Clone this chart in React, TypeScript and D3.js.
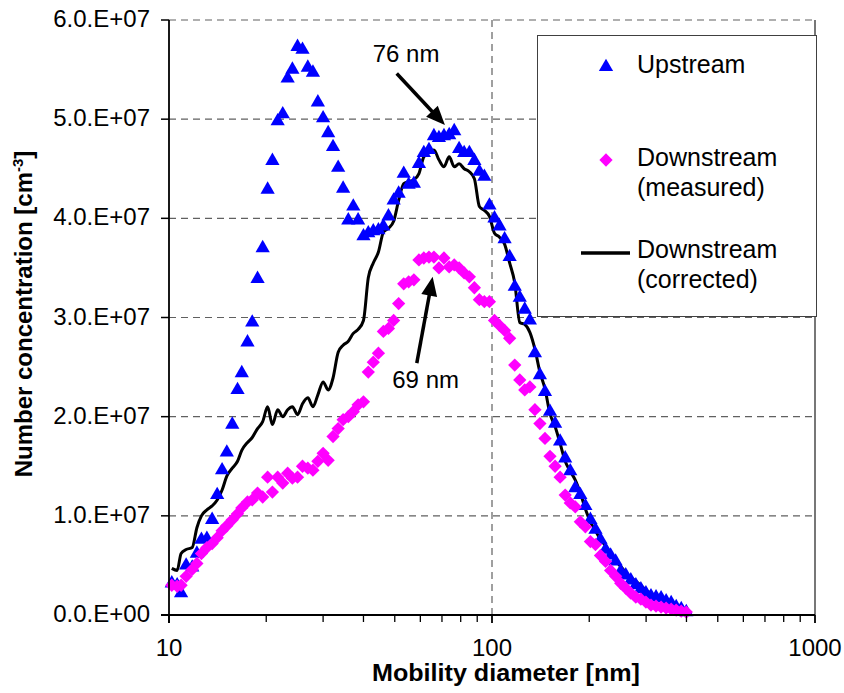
import React from 'react';
import * as d3 from 'd3';

// Mobility diameters (nm), SMPS channels
const diameters = [
  10.2, 10.6, 10.9, 11.3, 11.8, 12.2, 12.6, 13.1, 13.6, 14.1,
  14.6, 15.1, 15.7, 16.3, 16.8, 17.5, 18.1, 18.8, 19.5, 20.2,
  20.9, 21.7, 22.5, 23.3, 24.1, 25.0, 25.9, 26.9, 27.9, 28.9,
  30.0, 31.1, 32.2, 33.4, 34.6, 35.9, 37.2, 38.5, 40.0, 41.4,
  42.9, 44.5, 46.1, 47.8, 49.6, 51.4, 53.3, 55.2, 57.3, 59.4,
  61.5, 63.8, 66.1, 68.5, 71.0, 73.7, 76.4, 79.1, 82.0, 85.1,
  88.2, 91.4, 94.7, 98.2, 101.8, 105.5, 109.4, 113.4, 117.6, 121.9,
  126.3, 131.0, 135.8, 140.7, 145.9, 151.2, 156.8, 162.5, 168.5, 174.7,
  181.1, 187.7, 194.6, 201.7, 209.1, 216.7, 224.7, 232.9, 241.4, 250.3,
  259.5, 269.0, 278.8, 289.0, 299.6, 310.6, 322.0, 333.8, 346.0, 358.7,
  371.8, 385.4, 399.5,
];

// Number concentration, units of 1e7 cm^-3
const upstream = [
  0.32, 0.30, 0.22, 0.50, 0.48, 0.62, 0.76, 0.77, 0.96, 1.21,
  1.46, 1.64, 1.92, 2.27, 2.44, 2.75, 2.95, 3.39, 3.70, 4.29,
  4.58, 4.98, 5.05, 5.41, 5.50, 5.73, 5.70, 5.52, 5.47, 5.17,
  5.01, 4.86, 4.72, 4.51, 4.30, 3.98, 4.12, 3.98, 3.82, 3.85,
  3.87, 3.88, 3.92, 4.02, 4.18, 4.25, 4.45, 4.34, 4.35, 4.55,
  4.66, 4.69, 4.83, 4.81, 4.83, 4.84, 4.88, 4.70, 4.66, 4.66,
  4.58, 4.47, 4.42, 4.13, 4.00, 3.92, 3.79, 3.61, 3.31, 3.20,
  3.08, 2.97, 2.64, 2.42, 2.25, 2.05, 1.93, 1.75, 1.58, 1.45,
  1.28, 1.21, 1.10, 0.96, 0.86, 0.76, 0.66, 0.60, 0.54, 0.44,
  0.40, 0.35, 0.30, 0.26, 0.22, 0.19, 0.18, 0.17, 0.14, 0.12,
  0.08, 0.06, 0.03,
];

const downstreamMeasured = [
  0.30, 0.29, 0.30, 0.39, 0.46, 0.52, 0.62, 0.68, 0.72, 0.78,
  0.85, 0.90, 0.96, 1.02, 1.08, 1.14, 1.16, 1.23, 1.19, 1.39,
  1.24, 1.39, 1.33, 1.43, 1.38, 1.39, 1.50, 1.48, 1.46, 1.55,
  1.63, 1.56, 1.80, 1.88, 1.97, 2.00, 2.05, 2.12, 2.15, 2.45,
  2.55, 2.64, 2.86, 2.89, 2.97, 3.14, 3.34, 3.36, 3.38, 3.58,
  3.60, 3.61, 3.61, 3.50, 3.60, 3.51, 3.53, 3.50, 3.45, 3.41,
  3.30, 3.18, 3.16, 3.16, 2.97, 2.92, 2.87, 2.79, 2.52, 2.37,
  2.27, 2.30, 2.07, 1.93, 1.78, 1.60, 1.50, 1.39, 1.21, 1.13,
  1.09, 0.94, 0.89, 0.74, 0.71, 0.60, 0.54, 0.45, 0.39, 0.32,
  0.27, 0.22, 0.18, 0.16, 0.13, 0.10, 0.09, 0.08, 0.07, 0.06,
  0.05, 0.04, 0.03,
];

const downstreamCorrected = [
  0.47, 0.45, 0.62, 0.66, 0.68, 0.88, 1.00, 1.06, 1.10, 1.16,
  1.26, 1.40, 1.48, 1.55, 1.66, 1.74, 1.79, 1.88, 1.95, 2.10,
  1.92, 2.07, 2.00, 2.07, 2.10, 2.02, 2.13, 2.19, 2.10, 2.22,
  2.35, 2.27, 2.39, 2.65, 2.72, 2.76, 2.84, 2.88, 2.97, 3.40,
  3.55, 3.66, 3.86, 3.90, 3.97, 4.18, 4.35, 4.37, 4.39, 4.45,
  4.62, 4.66, 4.69, 4.59, 4.52, 4.62, 4.52, 4.55, 4.50, 4.47,
  4.40, 4.12, 4.08, 4.02, 3.85, 3.81, 3.74, 3.55, 3.35, 2.95,
  2.93, 2.85, 2.68, 2.45, 2.28, 2.03, 1.90, 1.73, 1.55, 1.45,
  1.36, 1.23, 1.07, 0.94, 0.85, 0.76, 0.70, 0.62, 0.55, 0.49,
  0.43, 0.38, 0.34, 0.30, 0.25, 0.22, 0.19, 0.17, 0.15, 0.12,
  0.09, 0.07, 0.05,
];

const yTickValues = [0, 1, 2, 3, 4, 5, 6];
const yTickLabels = ['0.0.E+00', '1.0.E+07', '2.0.E+07', '3.0.E+07', '4.0.E+07', '5.0.E+07', '6.0.E+07'];
const xTickValues = [10, 100, 1000];
const xTickLabels = ['10', '100', '1000'];
const xMinorTicks = [20, 30, 40, 50, 60, 70, 80, 90, 200, 300, 400, 500, 600, 700, 800, 900];

const legendUpstream = ['Upstream'];
const legendMeasured = ['Downstream', '(measured)'];
const legendCorrected = ['Downstream', '(corrected)'];

// annotations: label position and arrow tail/tip in data space
const annotations = [
  { label: '76 nm', text: [54.2, 5.58], tail: [50.7, 5.46], tip: [71.5, 4.94] },
  { label: '69 nm', text: [62.3, 2.29], tail: [58.5, 2.54], tip: [65.5, 3.41] },
];

const FONT = "'Liberation Sans', Arial, Helvetica, sans-serif";

export default function App() {
  const W = 844, H = 693;
  const left = 169, right = 815, top = 20, bottom = 615;
  const x = d3.scaleLog().domain([10, 1000]).range([left, right]);
  const y = d3.scaleLinear().domain([0, 6]).range([bottom, top]);

  const tri = d3.symbol().type(d3.symbolTriangle).size(88)() as string;
  const dia = d3.symbol().type(d3.symbolSquare).size(88)() as string;

  const line = d3
    .line<number>()
    .x((_, i) => x(diameters[i]))
    .y((v) => y(v))
    .curve(d3.curveMonotoneX);

  const gridColor = '#606060';

  const arrow = (a: typeof annotations[number], key: number) => {
    const x1 = x(a.tail[0]), y1 = y(a.tail[1]);
    const x2 = x(a.tip[0]), y2 = y(a.tip[1]);
    const dx = x2 - x1, dy = y2 - y1;
    const len = Math.sqrt(dx * dx + dy * dy);
    const ux = dx / len, uy = dy / len;
    const hl = 19, hw = 8;
    const bx = x2 - ux * hl, by = y2 - uy * hl;
    const p1 = [bx - uy * hw, by + ux * hw];
    const p2 = [bx + uy * hw, by - ux * hw];
    return (
      <g key={key}>
        <line x1={x1} y1={y1} x2={bx + ux * 2} y2={by + uy * 2} stroke="#000" strokeWidth={3.5} />
        <polygon points={`${x2},${y2} ${p1[0]},${p1[1]} ${p2[0]},${p2[1]}`} fill="#000" />
        <text x={x(a.text[0])} y={y(a.text[1])} textAnchor="middle" fontSize={24} fontFamily={FONT} fill="#000">
          {a.label}
        </text>
      </g>
    );
  };

  return (
    <svg width={W} height={H} style={{ position: 'absolute', left: 0, top: 0, background: '#fff' }}>
      <rect x={0} y={0} width={W} height={H} fill="#fff" />
      {/* horizontal gridlines */}
      {yTickValues.filter((v) => v > 0).map((v) => (
        <line key={'hg' + v} x1={left} x2={right} y1={y(v)} y2={y(v)} stroke={gridColor} strokeWidth={1.2} strokeDasharray="7,5" />
      ))}
      {/* vertical gridline */}
      <line x1={x(100)} x2={x(100)} y1={top} y2={bottom} stroke={gridColor} strokeWidth={1.2} strokeDasharray="7,5" />
      {/* right border */}
      <line x1={right} x2={right} y1={top} y2={bottom} stroke="#555" strokeWidth={1.6} />

      {/* corrected line */}
      <path d={line(downstreamCorrected) || ''} fill="none" stroke="#000" strokeWidth={3} strokeLinejoin="round" />
      {/* upstream triangles */}
      {upstream.map((v, i) => (
        <path key={'u' + i} d={tri} transform={`translate(${x(diameters[i])},${y(v)})`} fill="#0000FF" />
      ))}
      {/* measured diamonds */}
      {downstreamMeasured.map((v, i) => (
        <path key={'m' + i} d={dia} transform={`translate(${x(diameters[i])},${y(v)}) rotate(45)`} fill="#FF00FF" />
      ))}

      {/* axes */}
      <line x1={left} x2={left} y1={top} y2={bottom + 8} stroke="#000" strokeWidth={1.8} />
      <line x1={left - 8} x2={right} y1={bottom} y2={bottom} stroke="#000" strokeWidth={1.8} />
      {yTickValues.map((v, i) => (
        <g key={'yt' + v}>
          <line x1={left - 8} x2={left} y1={y(v)} y2={y(v)} stroke="#000" strokeWidth={1.5} />
          <text x={150} y={y(v) + 7} textAnchor="end" fontSize={24} fontFamily={FONT} fill="#000">
            {yTickLabels[i]}
          </text>
        </g>
      ))}
      {xTickValues.map((v, i) => (
        <g key={'xt' + v}>
          <line x1={x(v)} x2={x(v)} y1={bottom} y2={bottom + 8} stroke="#000" strokeWidth={1.8} />
          <text x={x(v)} y={656} textAnchor="middle" fontSize={24} fontFamily={FONT} fill="#000">
            {xTickLabels[i]}
          </text>
        </g>
      ))}
      {xMinorTicks.map((v) => (
        <line key={'xm' + v} x1={x(v)} x2={x(v)} y1={bottom} y2={bottom + 7} stroke="#000" strokeWidth={1.3} />
      ))}

      {/* axis titles */}
      <text x={506} y={681} textAnchor="middle" fontSize={24} fontWeight="bold" fontFamily={FONT} fill="#000" textLength={268} lengthAdjust="spacingAndGlyphs">
        Mobility diameter [nm]
      </text>
      <text transform="translate(32,314) rotate(-90)" textAnchor="middle" fontSize={24} fontWeight="bold" fontFamily={FONT} fill="#000">
        Number concentration [cm<tspan dy={-9} fontSize={15}>-3</tspan><tspan dy={9}>]</tspan>
      </text>

      {/* annotations */}
      {annotations.map((a, i) => arrow(a, i))}

      {/* legend */}
      <rect x={537.5} y={35.5} width={279} height={281} fill="#fff" stroke="#404040" strokeWidth={1} />
      <path d={tri} transform="translate(606,67)" fill="#0000FF" />
      <text x={637} y={73} fontSize={25} fontFamily={FONT} fill="#000">{legendUpstream[0]}</text>
      <path d={dia} transform="translate(606,160) rotate(45)" fill="#FF00FF" />
      <text x={637} y={166} fontSize={25} fontFamily={FONT} fill="#000">{legendMeasured[0]}</text>
      <text x={637} y={196} fontSize={25} fontFamily={FONT} fill="#000">{legendMeasured[1]}</text>
      <line x1={581} x2={630} y1={253} y2={253} stroke="#000" strokeWidth={3.5} />
      <text x={637} y={258} fontSize={25} fontFamily={FONT} fill="#000">{legendCorrected[0]}</text>
      <text x={637} y={288} fontSize={25} fontFamily={FONT} fill="#000">{legendCorrected[1]}</text>
    </svg>
  );
}
